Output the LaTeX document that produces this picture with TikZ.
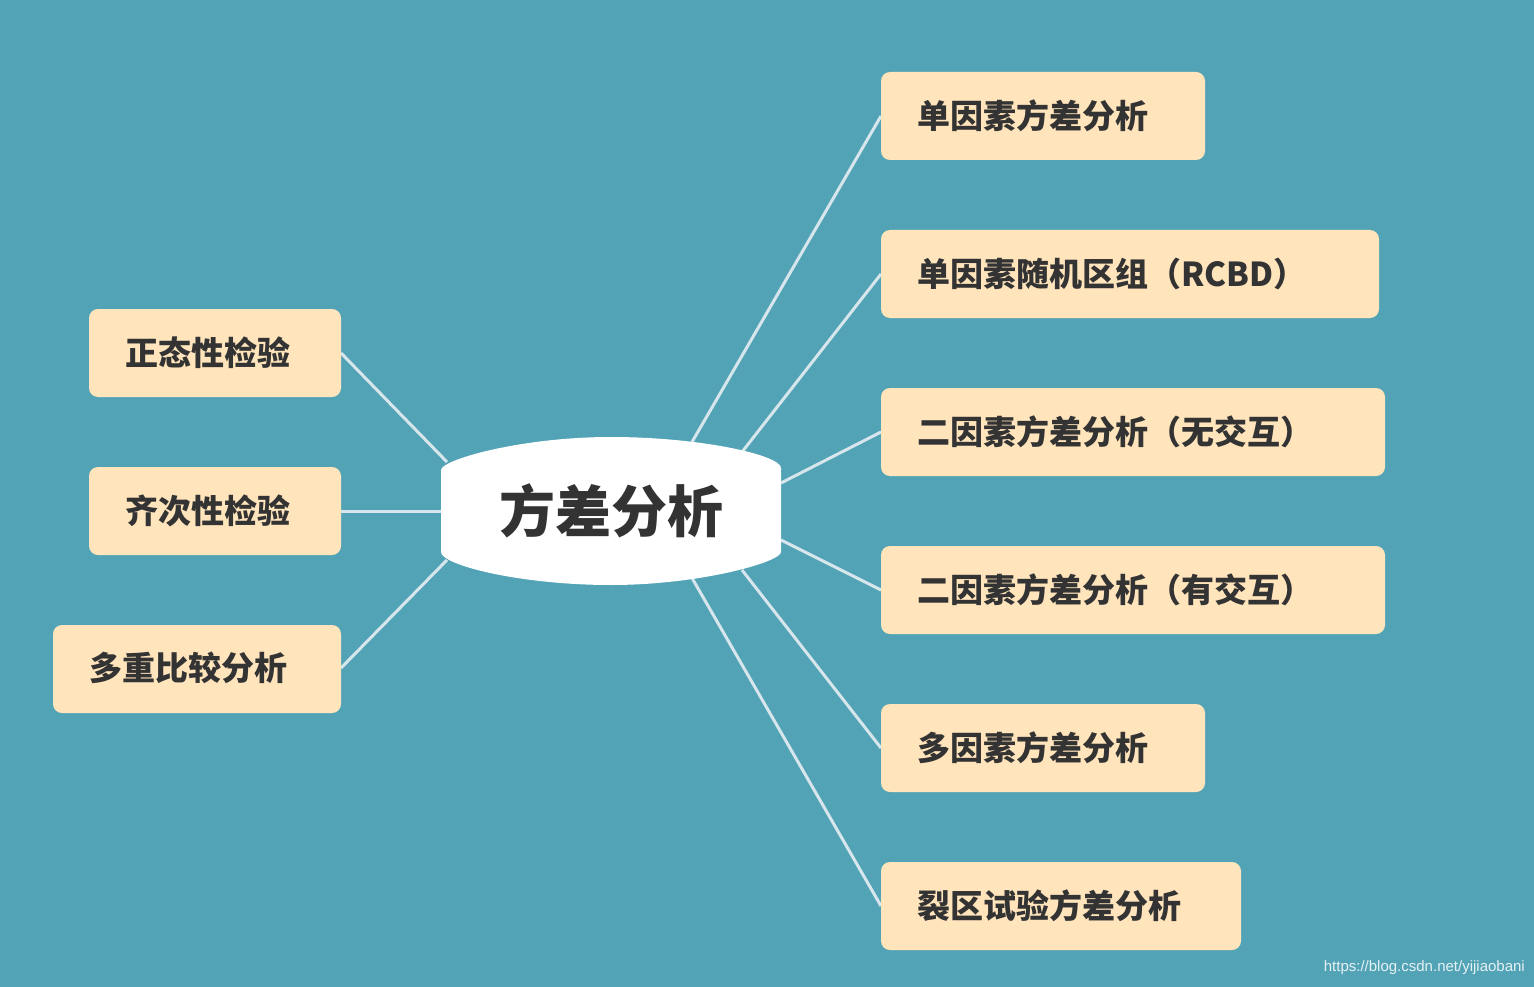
\documentclass[tikz,border=0pt]{standalone}
\usepackage{fontspec}
\newfontfamily\cjk{Noto Sans CJK SC}
\definecolor{bg}{HTML}{52A3B5}
\definecolor{bx}{HTML}{FFE4BC}
\definecolor{tx}{HTML}{333333}
\definecolor{ln}{HTML}{D6E6EC}
\begin{document}
\begin{tikzpicture}[x=1pt,y=-1pt,
  box/.style={fill=bx,rounded corners=9pt},
  lbl/.style={anchor=west,inner sep=0pt,text=tx,font=\cjk\bfseries\fontsize{33}{36}\selectfont},
  con/.style={draw=ln,line width=3pt}]
\fill[bg] (0,0) rectangle (1534,987);
\useasboundingbox (0,0) rectangle (1534,987);
% connectors
\coordinate (c1) at (692,442); \coordinate (c2) at (742,452);
\coordinate (c3) at (781,483); \coordinate (c4) at (781,540);
\coordinate (c5) at (742,570); \coordinate (c6) at (692,578);
\coordinate (l1) at (447,462); \coordinate (l2) at (441,511); \coordinate (l3) at (447,560);
\coordinate (r1) at (881,116); \coordinate (r2) at (881,274); \coordinate (r3) at (881,432);
\coordinate (r4) at (881,590); \coordinate (r5) at (881,748); \coordinate (r6) at (881,906);
\coordinate (p1) at (341,353); \coordinate (p2) at (341,511); \coordinate (p3) at (341,668);
\foreach \a/\b in {c1/r1,c2/r2,c3/r3,c4/r4,c5/r5,c6/r6,l1/p1,l2/p2,l3/p3} \draw[con] (\a)--(\b);
% center
\fill[white] (441,470) .. controls (441,460) and (520,437) .. (611,437)
  .. controls (700,437) and (781,455) .. (781,468) -- (781,552)
  .. controls (781,562) and (700,585) .. (611,585)
  .. controls (520,585) and (441,565) .. (441,552) -- cycle;
\node[text=tx,font=\cjk\bfseries\fontsize{56}{60}\selectfont,inner sep=0pt] (center) at (611,511) {方差分析};
% right boxes
\fill[box] (881,72) rectangle (1205,160); \node[lbl] (n1) at (917,116) {单因素方差分析};
\fill[box] (881,230) rectangle (1379,318); \node[lbl] (n2) at (917,274) {单因素随机区组\fontspec{Noto Sans CJK SC}（RCBD）};
\fill[box] (881,388) rectangle (1385,476); \node[lbl] (n3) at (917,432) {二因素方差分析（无交互）};
\fill[box] (881,546) rectangle (1385,634); \node[lbl] (n4) at (917,590) {二因素方差分析（有交互）};
\fill[box] (881,704) rectangle (1205,792); \node[lbl] (n5) at (917,748) {多因素方差分析};
\fill[box] (881,862) rectangle (1241,950); \node[lbl] (n6) at (917,906) {裂区试验方差分析};
% left boxes
\fill[box] (89,309) rectangle (341,397); \node[lbl] (m1) at (125,353) {正态性检验};
\fill[box] (89,467) rectangle (341,555); \node[lbl] (m2) at (125,511) {齐次性检验};
\fill[box] (53,625) rectangle (341,713); \node[lbl] (m3) at (89,668) {多重比较分析};
\node[anchor=east,text=white!85!bg,font=\fontspec{Liberation Sans}\fontsize{15}{17}\selectfont,inner sep=0pt] (wm) at (1525,968) {https://blog.csdn.net/yijiaobani};
\end{tikzpicture}
\end{document}
